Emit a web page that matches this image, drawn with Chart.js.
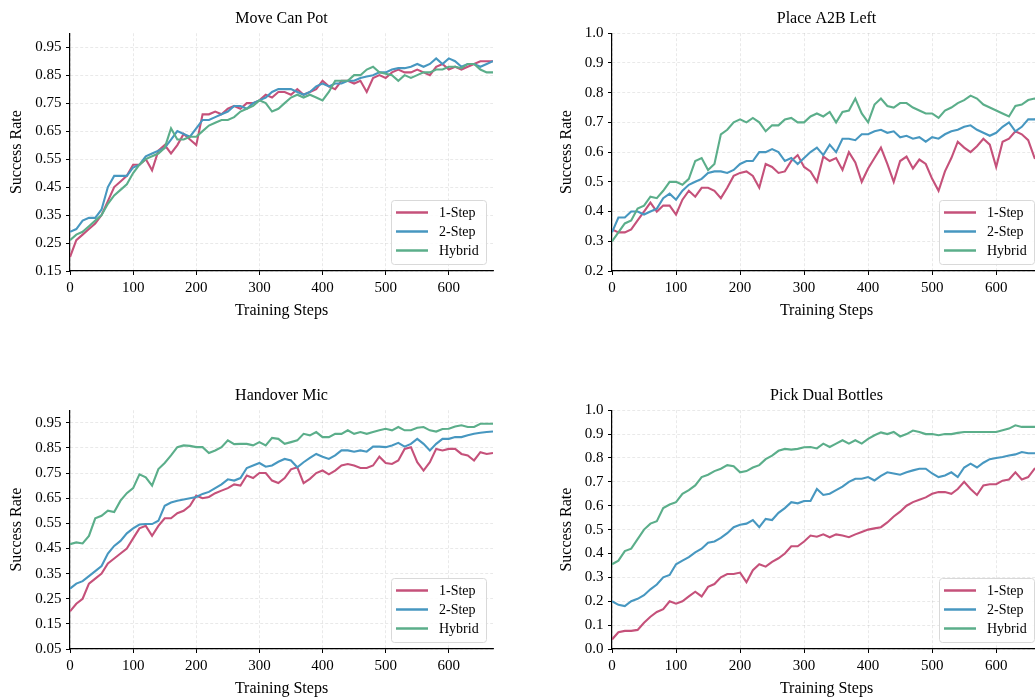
<!DOCTYPE html>
<html>
<head>
<meta charset="utf-8">
<script src="https://cdn.jsdelivr.net/npm/chart.js@4.4.1/dist/chart.umd.min.js"></script>
<style>
  html, body { margin: 0; padding: 0; background: #fff; }
  body { width: 1035px; height: 698px; overflow: hidden; position: relative; }
  canvas { position: absolute; }
  #c1 { left: 0px; top: 0px; }
  #c2 { left: 550px; top: 0px; }
  #c3 { left: 0px; top: 377px; }
  #c4 { left: 550px; top: 377px; }
</style>
</head>
<body>
<canvas id="c1" width="510" height="320"></canvas>
<canvas id="c2" width="510" height="320"></canvas>
<canvas id="c3" width="510" height="321"></canvas>
<canvas id="c4" width="510" height="321"></canvas>
<script>
// training steps (sampled every 10 steps)
const steps = [0,10,20,30,40,50,60,70,80,90,100,110,120,130,140,150,160,170,180,190,
  200,210,220,230,240,250,260,270,280,290,300,310,320,330,340,350,360,370,380,390,
  400,410,420,430,440,450,460,470,480,490,500,510,520,530,540,550,560,570,580,590,
  600,610,620,630,640,650,660,670];

const seriesNames = ['1-Step', '2-Step', 'Hybrid'];
const seriesColors = ['#c5517a', '#4797c0', '#5bae8a'];
const xTicks = [0, 100, 200, 300, 400, 500, 600];

// Move Can Pot
const moveOneStep = [0.20,0.26,0.28,0.30,0.32,0.35,0.40,0.45,0.47,0.49,
  0.53,0.53,0.55,0.51,0.58,0.60,0.57,0.60,0.64,0.62,
  0.60,0.71,0.71,0.72,0.71,0.73,0.74,0.73,0.75,0.75,
  0.76,0.78,0.77,0.79,0.79,0.78,0.80,0.78,0.79,0.80,
  0.83,0.81,0.80,0.83,0.83,0.82,0.83,0.79,0.84,0.85,
  0.84,0.86,0.87,0.86,0.86,0.87,0.86,0.85,0.88,0.89,
  0.87,0.88,0.87,0.88,0.89,0.90,0.90,0.90];
const moveTwoStep = [0.29,0.30,0.33,0.34,0.34,0.37,0.45,0.49,0.49,0.49,
  0.52,0.53,0.56,0.57,0.58,0.59,0.62,0.65,0.64,0.63,
  0.66,0.69,0.69,0.70,0.71,0.72,0.74,0.74,0.73,0.75,
  0.76,0.77,0.79,0.80,0.80,0.80,0.79,0.78,0.79,0.81,
  0.82,0.81,0.82,0.82,0.83,0.83,0.84,0.845,0.85,0.86,
  0.86,0.87,0.875,0.875,0.88,0.89,0.88,0.89,0.91,0.89,
  0.91,0.90,0.88,0.89,0.89,0.88,0.89,0.90];
const moveHybrid = [0.26,0.28,0.29,0.31,0.33,0.35,0.39,0.42,0.44,0.46,
  0.50,0.53,0.55,0.56,0.57,0.59,0.66,0.62,0.62,0.63,
  0.63,0.65,0.67,0.68,0.69,0.69,0.70,0.72,0.73,0.74,
  0.76,0.75,0.72,0.73,0.75,0.77,0.78,0.77,0.78,0.77,
  0.76,0.79,0.83,0.83,0.83,0.85,0.85,0.87,0.88,0.86,
  0.855,0.85,0.83,0.85,0.84,0.85,0.86,0.86,0.87,0.87,
  0.88,0.88,0.875,0.89,0.89,0.87,0.86,0.86];

// Place A2B Left
const placeOneStep = [0.34,0.33,0.33,0.34,0.37,0.40,0.43,0.40,0.42,0.42,
  0.39,0.44,0.47,0.45,0.48,0.48,0.47,0.445,0.48,0.52,
  0.53,0.535,0.52,0.48,0.56,0.55,0.53,0.535,0.57,0.59,
  0.55,0.535,0.50,0.585,0.57,0.58,0.54,0.60,0.565,0.50,
  0.545,0.58,0.615,0.56,0.50,0.57,0.585,0.545,0.575,0.56,
  0.51,0.47,0.535,0.58,0.635,0.615,0.60,0.62,0.645,0.625,
  0.55,0.635,0.645,0.67,0.66,0.64,0.58,0.57];
const placeTwoStep = [0.33,0.38,0.38,0.40,0.40,0.39,0.40,0.41,0.445,0.46,
  0.44,0.47,0.49,0.50,0.51,0.53,0.535,0.535,0.53,0.54,
  0.56,0.57,0.57,0.60,0.60,0.61,0.60,0.57,0.58,0.56,
  0.58,0.60,0.615,0.59,0.625,0.60,0.645,0.645,0.64,0.66,
  0.66,0.67,0.675,0.665,0.67,0.65,0.655,0.645,0.65,0.635,
  0.65,0.645,0.66,0.67,0.675,0.685,0.69,0.675,0.665,0.655,
  0.665,0.685,0.70,0.67,0.685,0.71,0.71,0.72];
const placeHybrid = [0.30,0.33,0.36,0.37,0.41,0.42,0.45,0.445,0.47,0.50,
  0.50,0.49,0.51,0.57,0.58,0.54,0.56,0.66,0.675,0.70,
  0.71,0.70,0.715,0.70,0.67,0.69,0.69,0.71,0.715,0.70,
  0.70,0.72,0.73,0.72,0.735,0.70,0.735,0.74,0.78,0.73,
  0.70,0.76,0.78,0.755,0.75,0.765,0.765,0.75,0.74,0.73,
  0.73,0.715,0.74,0.75,0.765,0.775,0.79,0.78,0.76,0.75,
  0.74,0.73,0.72,0.755,0.76,0.775,0.78,0.78];

// Handover Mic
const handOneStep = [0.20,0.23,0.25,0.31,0.33,0.35,0.39,0.41,0.43,0.45,
  0.49,0.53,0.54,0.50,0.54,0.57,0.57,0.59,0.60,0.62,
  0.66,0.65,0.655,0.67,0.68,0.69,0.705,0.70,0.74,0.73,
  0.75,0.75,0.72,0.71,0.73,0.765,0.773,0.71,0.727,0.75,
  0.76,0.745,0.76,0.78,0.786,0.78,0.77,0.77,0.78,0.815,
  0.79,0.786,0.80,0.846,0.853,0.793,0.76,0.793,0.846,0.84,
  0.846,0.846,0.826,0.82,0.80,0.833,0.826,0.83];
const handTwoStep = [0.29,0.31,0.32,0.34,0.36,0.38,0.43,0.46,0.48,0.51,
  0.53,0.545,0.547,0.547,0.56,0.62,0.633,0.64,0.645,0.65,
  0.655,0.667,0.675,0.69,0.705,0.725,0.72,0.73,0.77,0.78,
  0.79,0.775,0.78,0.795,0.806,0.80,0.773,0.793,0.81,0.826,
  0.815,0.806,0.82,0.84,0.84,0.835,0.84,0.835,0.855,0.855,
  0.853,0.86,0.87,0.855,0.866,0.886,0.866,0.84,0.866,0.886,
  0.886,0.893,0.893,0.90,0.906,0.91,0.913,0.915];
const handHybrid = [0.467,0.474,0.47,0.50,0.57,0.58,0.60,0.595,0.64,0.67,
  0.69,0.745,0.733,0.70,0.766,0.79,0.82,0.853,0.86,0.858,
  0.853,0.853,0.83,0.84,0.853,0.88,0.865,0.866,0.866,0.86,
  0.873,0.86,0.89,0.886,0.866,0.873,0.88,0.906,0.90,0.913,
  0.893,0.893,0.906,0.906,0.92,0.906,0.913,0.906,0.913,0.92,
  0.926,0.92,0.933,0.92,0.92,0.93,0.933,0.92,0.915,0.925,
  0.926,0.935,0.94,0.933,0.933,0.946,0.946,0.946];

// Pick Dual Bottles
const pickOneStep = [0.04,0.07,0.076,0.076,0.08,0.11,0.135,0.155,0.167,0.20,
  0.19,0.20,0.22,0.24,0.22,0.26,0.272,0.30,0.314,0.314,
  0.32,0.28,0.33,0.355,0.345,0.365,0.38,0.40,0.43,0.43,
  0.45,0.475,0.47,0.48,0.468,0.48,0.475,0.468,0.48,0.49,
  0.50,0.505,0.51,0.53,0.555,0.575,0.60,0.615,0.625,0.635,
  0.65,0.657,0.657,0.65,0.67,0.70,0.67,0.645,0.685,0.69,
  0.69,0.705,0.71,0.74,0.71,0.72,0.755,0.76];
const pickTwoStep = [0.20,0.185,0.18,0.20,0.21,0.225,0.25,0.27,0.30,0.31,
  0.355,0.37,0.385,0.405,0.42,0.445,0.45,0.465,0.485,0.51,
  0.52,0.525,0.54,0.51,0.545,0.54,0.57,0.59,0.615,0.61,
  0.62,0.62,0.67,0.645,0.65,0.665,0.68,0.70,0.713,0.713,
  0.72,0.706,0.725,0.74,0.735,0.73,0.74,0.748,0.755,0.755,
  0.735,0.72,0.727,0.74,0.72,0.76,0.776,0.76,0.78,0.795,
  0.80,0.804,0.81,0.815,0.825,0.82,0.82,0.82];
const pickHybrid = [0.355,0.37,0.41,0.42,0.46,0.50,0.525,0.535,0.59,0.605,
  0.615,0.65,0.665,0.685,0.72,0.73,0.745,0.755,0.77,0.765,
  0.74,0.745,0.76,0.77,0.795,0.81,0.83,0.838,0.835,0.838,
  0.845,0.846,0.84,0.86,0.846,0.86,0.874,0.86,0.874,0.86,
  0.88,0.895,0.907,0.90,0.909,0.89,0.90,0.915,0.909,0.90,
  0.90,0.895,0.90,0.90,0.905,0.909,0.909,0.909,0.909,0.909,
  0.909,0.916,0.923,0.937,0.93,0.93,0.93,0.93];

// y tick values and labels
const yTicksOdd = [0.15, 0.25, 0.35, 0.45, 0.55, 0.65, 0.75, 0.85, 0.95];
const yLabelsOdd = ['0.15', '0.25', '0.35', '0.45', '0.55', '0.65', '0.75', '0.85', '0.95'];
const yTicksHand = [0.05, 0.15, 0.25, 0.35, 0.45, 0.55, 0.65, 0.75, 0.85, 0.95];
const yLabelsHand = ['0.05', '0.15', '0.25', '0.35', '0.45', '0.55', '0.65', '0.75', '0.85', '0.95'];
const yTicksPlace = [0.2, 0.3, 0.4, 0.5, 0.6, 0.7, 0.8, 0.9, 1.0];
const yLabelsPlace = ['0.2', '0.3', '0.4', '0.5', '0.6', '0.7', '0.8', '0.9', '1.0'];
const yTicksPick = [0.0, 0.1, 0.2, 0.3, 0.4, 0.5, 0.6, 0.7, 0.8, 0.9, 1.0];
const yLabelsPick = ['0.0', '0.1', '0.2', '0.3', '0.4', '0.5', '0.6', '0.7', '0.8', '0.9', '1.0'];

Chart.defaults.font.family = "'Liberation Serif', 'Times New Roman', serif";
Chart.defaults.color = '#000';

// legend box drawn in the lower right corner of the plot area
const insideLegend = {
    id: 'insideLegend',
    afterDraw(chart) {
        const ctx = chart.ctx;
        const area = chart.chartArea;
        const w = 95, h = 64;
        const x = Math.round(area.right - 7 - w), y = Math.round(area.bottom - 7 - h);
        ctx.save();
        ctx.beginPath();
        ctx.roundRect(x + 0.5, y + 0.5, w, h, 3);
        ctx.fillStyle = 'rgba(255,255,255,0.85)';
        ctx.fill();
        ctx.strokeStyle = '#d9d9d9';
        ctx.lineWidth = 1;
        ctx.stroke();
        ctx.font = "14px 'Liberation Serif', serif";
        ctx.textBaseline = 'middle';
        chart.data.datasets.forEach((ds, i) => {
            const cy = y + 12.5 + i * 19;
            ctx.strokeStyle = ds.borderColor;
            ctx.lineWidth = 2.5;
            ctx.beginPath();
            ctx.moveTo(x + 5, cy);
            ctx.lineTo(x + 37, cy);
            ctx.stroke();
            ctx.fillStyle = '#000';
            ctx.fillText(ds.label, x + 48, cy + 1);
        });
        ctx.restore();
    }
};

function makePanel(id, title, yMin, yTicks, yLabels, values, yWidth, padRight) {
    const gridOpts = {
        color: 'rgba(0,0,0,0.11)',
        lineWidth: 0.8,
        tickLength: 4,
        tickColor: '#000',
        tickWidth: 1
    };
    const borderOpts = { color: '#000', width: 1.2, dash: [3, 2] };

    return new Chart(document.getElementById(id), {
        type: 'line',
        data: {
            datasets: values.map((v, i) => ({
                label: seriesNames[i],
                data: v.map((val, j) => ({ x: steps[j], y: val })),
                borderColor: seriesColors[i],
                backgroundColor: seriesColors[i],
                borderWidth: 2.1,
                pointRadius: 0,
                tension: 0,
                order: values.length - i
            }))
        },
        options: {
            responsive: false,
            animation: false,
            devicePixelRatio: 1,
            layout: { padding: { left: 0, right: padRight, top: 0, bottom: 0 } },
            plugins: {
                legend: { display: false },
                tooltip: { enabled: false },
                title: {
                    display: true,
                    fullSize: false,
                    text: title,
                    color: '#000',
                    font: { size: 16, weight: 'normal' },
                    padding: { top: 9.5, bottom: 4.5 }
                }
            },
            scales: {
                x: {
                    type: 'linear',
                    min: 0,
                    max: 670,
                    afterBuildTicks: s => { s.ticks = xTicks.map(v => ({ value: v })); },
                    afterFit: s => { s.height = 49; },
                    ticks: { font: { size: 15 }, color: '#000', padding: 4, maxRotation: 0, autoSkip: false },
                    grid: gridOpts,
                    border: borderOpts,
                    title: {
                        display: true,
                        text: 'Training Steps',
                        color: '#000',
                        font: { size: 16 },
                        padding: { top: 0, bottom: 0 }
                    }
                },
                y: {
                    type: 'linear',
                    min: yMin,
                    max: 1.0,
                    afterBuildTicks: s => { s.ticks = yTicks.map(v => ({ value: v })); },
                    afterFit: s => { s.width = yWidth; },
                    ticks: {
                        font: { size: 15 },
                        color: '#000',
                        padding: 4.5,
                        autoSkip: false,
                        callback: (v, i) => yLabels[i]
                    },
                    grid: gridOpts,
                    border: borderOpts,
                    title: {
                        display: true,
                        text: 'Success Rate',
                        color: '#000',
                        font: { size: 16 },
                        padding: { top: 7, bottom: 0 }
                    }
                }
            }
        },
        plugins: [insideLegend]
    });
}

makePanel('c1', 'Move Can Pot', 0.15, yTicksOdd, yLabelsOdd,
    [moveOneStep, moveTwoStep, moveHybrid], 70, 17);
makePanel('c2', 'Place A2B Left', 0.2, yTicksPlace, yLabelsPlace,
    [placeOneStep, placeTwoStep, placeHybrid], 62, 19);
makePanel('c3', 'Handover Mic', 0.05, yTicksHand, yLabelsHand,
    [handOneStep, handTwoStep, handHybrid], 70, 17);
makePanel('c4', 'Pick Dual Bottles', 0.0, yTicksPick, yLabelsPick,
    [pickOneStep, pickTwoStep, pickHybrid], 62, 19);
</script>
</body>
</html>
